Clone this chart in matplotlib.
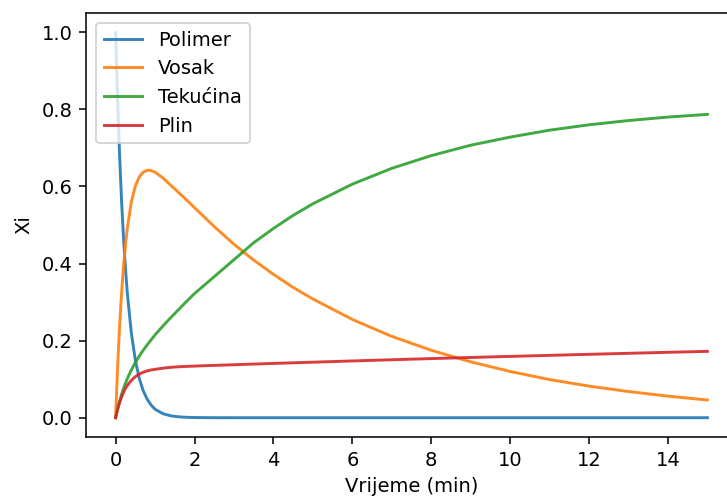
import matplotlib
matplotlib.use("Agg")
import matplotlib.pyplot as plt

# time grid (min) and fractions
t = [0, 0.05, 0.1, 0.15, 0.2, 0.25, 0.3, 0.4, 0.5, 0.6, 0.7, 0.8, 0.9, 1.0,
     1.2, 1.4, 1.6, 1.8, 2.0, 2.5, 3, 3.5, 4, 4.5, 5, 6, 7, 8, 9, 10, 11,
     12, 13, 14, 15]

polimer = [1.0, 0.827, 0.684, 0.566, 0.468, 0.387, 0.320, 0.219, 0.150,
           0.102, 0.070, 0.048, 0.033, 0.022, 0.0105, 0.0049, 0.0023,
           0.0011, 0.0005, 0.0001, 0, 0, 0, 0, 0, 0, 0, 0, 0, 0, 0,
           0, 0, 0, 0]

vosak = [0.0, 0.129, 0.235, 0.321, 0.391, 0.448, 0.494, 0.560, 0.601,
         0.625, 0.637, 0.642, 0.641, 0.637, 0.622, 0.603, 0.584, 0.565,
         0.545, 0.496, 0.450, 0.409, 0.372, 0.338, 0.308, 0.255, 0.211,
         0.175, 0.145, 0.120, 0.099, 0.082, 0.068, 0.056, 0.046]

tekucina = [0.0, 0.0226, 0.0424, 0.0599, 0.0755, 0.0895, 0.102, 0.124,
            0.143, 0.160, 0.175, 0.189, 0.202, 0.215, 0.238, 0.260, 0.281,
            0.302, 0.322, 0.366, 0.410, 0.454, 0.491, 0.525, 0.555, 0.606,
            0.647, 0.680, 0.707, 0.728, 0.746, 0.760, 0.771, 0.780, 0.787]

plin = [0.0, 0.021, 0.039, 0.053, 0.0655, 0.076, 0.084, 0.097, 0.1065,
        0.113, 0.118, 0.1215, 0.124, 0.1255, 0.1285, 0.1308, 0.1322,
        0.1332, 0.134, 0.1358, 0.1375, 0.1392, 0.1409, 0.1425, 0.1441,
        0.1473, 0.1504, 0.1534, 0.1563, 0.1591, 0.1618, 0.1645, 0.1671,
        0.1697, 0.1722]

labels = ["Polimer", "Vosak", "Tekućina", "Plin"]

DPI = 140
fig = plt.figure(figsize=(727 / DPI, 497 / DPI), dpi=DPI)
# right spine sits just past the image edge, like the cropped original
ax = fig.add_axes([86 / 727, 60 / 497, 651 / 727, 424 / 497])

for series, name in zip([polimer, vosak, tekucina, plin], labels):
    ax.plot(t, series, label=name, alpha=0.9)

ax.set_xlabel("Vrijeme (min)")
ax.set_ylabel("Xi")
ax.legend(loc="upper left")

fig.savefig("out.png", dpi=DPI)
